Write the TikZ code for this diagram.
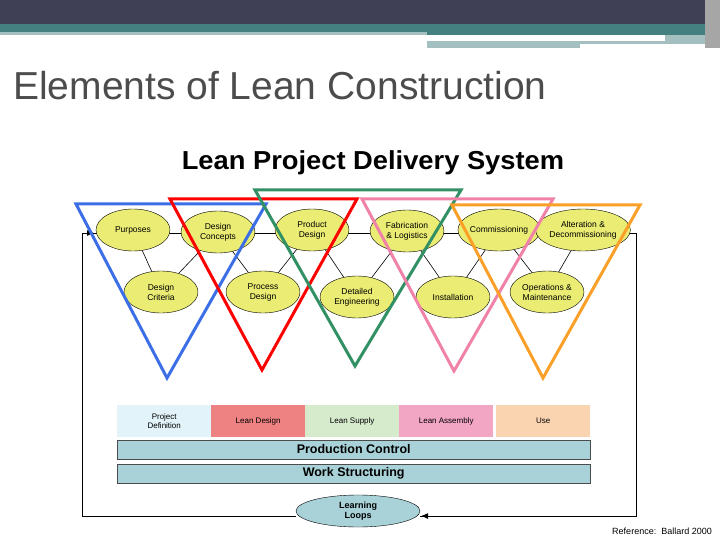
\documentclass[tikz,border=0pt]{standalone}
\usepackage{fontspec}
\setmainfont{Liberation Sans}
\usetikzlibrary{shapes.geometric,arrows.meta}
\definecolor{dark}{HTML}{3F3F55}
\definecolor{teal}{HTML}{448080}
\definecolor{lteal}{HTML}{A3BFBF}
\definecolor{ell}{HTML}{EAEC74}
\definecolor{bar}{HTML}{A8D2D8}
\tikzset{
 el/.style={ellipse,draw=black,fill=ell,minimum width=74pt,minimum height=42pt,inner sep=0pt,align=center,font=\fontsize{8.5}{10}\selectfont},
 tri/.style={line width=3pt,line join=miter},
 ph/.style={draw=none,minimum height=32pt,minimum width=94pt,inner sep=0pt,align=center,font=\fontsize{8}{9}\selectfont,anchor=west},
 br/.style={draw=gray!60!black,fill=bar,minimum height=19pt,minimum width=473pt,inner sep=0pt,font=\bfseries\fontsize{12.5}{13}\selectfont,anchor=west},
 cn/.style={black,line width=0.6pt}
}
\begin{document}
\begin{tikzpicture}[x=1pt,y=-1pt]
\useasboundingbox (0,0) rectangle (720,540);
% header
\fill[dark] (0,0) rectangle (720,24);
\fill[teal] (0,24) rectangle (720,32);
\fill[lteal] (0,32) rectangle (427,35);
\fill[teal] (427,32) rectangle (705,35);
\fill[lteal] (427,41) rectangle (580,48);
\fill[lteal] (580,41) rectangle (705,44);
\fill[lteal] (665,35) rectangle (705,41);
\fill[gray!70] (705,0) rectangle (720,48);
\node[anchor=west,text=black!70,font=\fontsize{39}{40}\selectfont,inner sep=0pt] (title) at (13,86) {Elements of Lean Construction};
\node[font=\bfseries\fontsize{26}{28}\selectfont,inner sep=0pt,xscale=1.05] (sub) at (373,163) {Lean Project Delivery System};
% loop frame
\coordinate (tl) at (82,233); \coordinate (bl) at (82,516);
\coordinate (tr) at (636,233); \coordinate (br) at (636,516);
\draw[line width=1pt] (bl) -- (tl) -- (tr) -- (br) -- (420,516);
\draw[line width=1pt] (bl) -- (296,516);
\draw[-{Latex[length=7pt,width=6pt]},line width=1pt] (82,233) -- (94,233);
\draw[-{Latex[length=7pt,width=6pt]},line width=1pt] (436,516) -- (421,516);
% ellipses
\node[el] (pur) at (133,230) {Purposes};
\node[el] (dc) at (218,232) {Design\\Concepts};
\node[el] (pd) at (312,230) {Product\\Design};
\node[el] (fl) at (407,231) {Fabrication\\\& Logistics};
\node[el] (com) at (499,230) {Commissioning};
\node[el] (alt) at (583,230) {Alteration \&\\Decommissioning};
\node[el] (crit) at (161,292) {Design\\Criteria};
\node[el] (prd) at (263,292) {Process\\Design};
\node[el] (det) at (357,297) {Detailed\\Engineering};
\node[el] (ins) at (453,297) {Installation};
\node[el] (ops) at (547,292) {Operations \&\\Maintenance};
\draw[cn] (pur) -- (crit); \draw[cn] (crit) -- (dc);
\draw[cn] (dc) -- (prd); \draw[cn] (prd) -- (pd);
\draw[cn] (pd) -- (det); \draw[cn] (det) -- (fl);
\draw[cn] (fl) -- (ins); \draw[cn] (ins) -- (com);
\draw[cn] (com) -- (ops); \draw[cn] (ops) -- (alt);
% triangles
\draw[tri,color={rgb,255:red,60;green,110;blue,230}] (76,204) -- (266,204) -- (167,378) -- cycle;
\draw[tri,red] (170,199) -- (357,199) -- (262,370) -- cycle;
\draw[tri,color={rgb,255:red,50;green,145;blue,100}] (255,190) -- (461,190) -- (355,366) -- cycle;
\draw[tri,color={rgb,255:red,240;green,130;blue,170}] (362,199) -- (553,199) -- (454,371) -- cycle;
\draw[tri,color={rgb,255:red,250;green,160;blue,40}] (452,205) -- (640,205) -- (543,378) -- cycle;
% phases
\node[ph,fill={rgb,255:red,226;green,244;blue,250}] (p1) at (117,421) {Project\\Definition};
\node[ph,fill={rgb,255:red,238;green,130;blue,130}] (p2) at (211,421) {Lean Design};
\node[ph,fill={rgb,255:red,214;green,234;blue,204}] (p3) at (305,421) {Lean Supply};
\node[ph,fill={rgb,255:red,242;green,166;blue,196}] (p4) at (399,421) {Lean Assembly};
\node[ph,fill={rgb,255:red,250;green,212;blue,176}] (p5) at (496,421) {Use};
\node[br] (pc) at (117,449.5) {Production Control};
\node[br] (ws) at (117,473.5) {Work Structuring};
\node[ellipse,draw=black,fill=bar,minimum width=124pt,minimum height=32pt,inner sep=0pt,align=center,font=\bfseries\fontsize{9}{10.5}\selectfont] (ll) at (358,511) {Learning\\Loops};
\node[anchor=east,font=\fontsize{9}{10}\selectfont,inner sep=0pt] (ref) at (712,531) {Reference:\ \ Ballard 2000};
\end{tikzpicture}
\end{document}
